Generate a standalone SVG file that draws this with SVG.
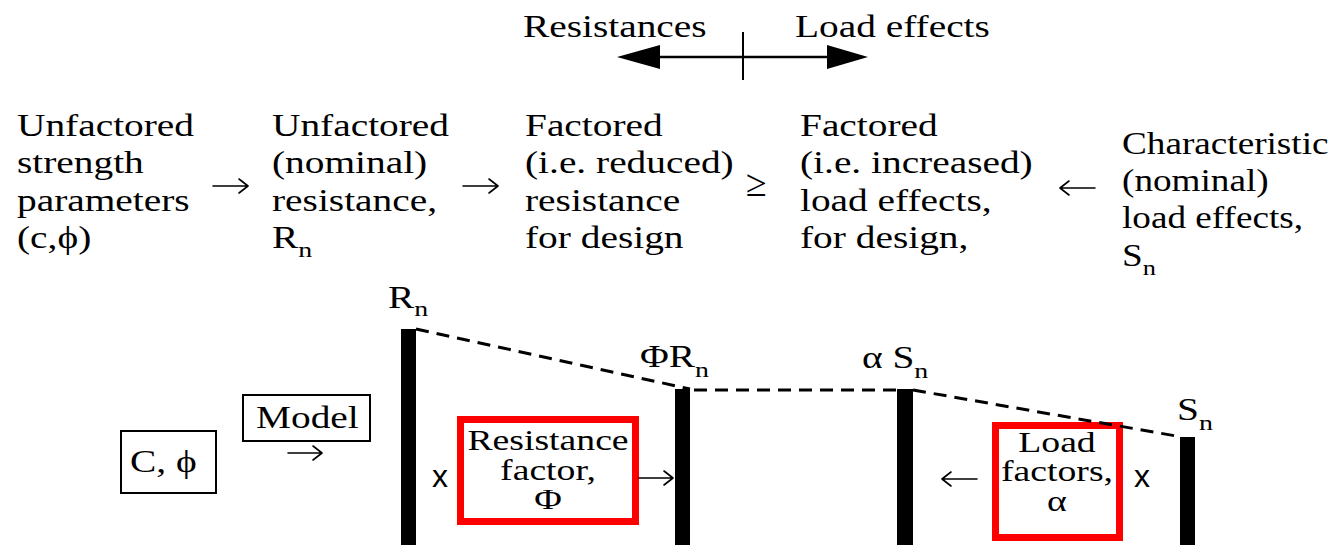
<svg xmlns="http://www.w3.org/2000/svg" width="1341" height="545" viewBox="0 0 1341 545">
<style>
text{font-family:"Liberation Serif","Times New Roman",serif;font-size:31px;fill:#000}
.sans{font-family:"Liberation Sans",Arial,sans-serif;font-size:32px}
.sub{font-size:22px}
.dash{fill:none;stroke:#000;stroke-width:3;stroke-dasharray:13 8}
.box{fill:#fff;stroke:#000;stroke-width:2}
.red{fill:none;stroke:#f00;stroke-width:7}
.bar{fill:#000}
.mid{text-anchor:middle}
.arr{fill:none;stroke:#000;stroke-width:1.6;stroke-linecap:round;stroke-linejoin:round}
</style>
<rect width="1341" height="545" fill="#fff"/>
<g id="header">
  <text transform="translate(523 0) scale(1.27 1)" y="37">Resistances</text>
  <text transform="translate(795 0) scale(1.27 1)" y="37">Load effects</text>
</g>
<g id="col1" transform="translate(17 0) scale(1.27 1)">
  <text y="136">Unfactored</text>
  <text y="173">strength</text>
  <text y="211">parameters</text>
  <text y="248">(c,ϕ)</text>
</g>
<g id="col2" transform="translate(272 0) scale(1.27 1)">
  <text y="136">Unfactored</text>
  <text y="173">(nominal)</text>
  <text y="211">resistance,</text>
  <text y="248">R<tspan class="sub" dy="9">n</tspan></text>
</g>
<g id="col3" transform="translate(525 0) scale(1.27 1)">
  <text y="136">Factored</text>
  <text y="173">(i.e. reduced)</text>
  <text y="211">resistance</text>
  <text y="248">for design</text>
</g>
<g id="col4" transform="translate(800 0) scale(1.27 1)">
  <text y="136">Factored</text>
  <text y="173">(i.e. increased)</text>
  <text y="211">load effects,</text>
  <text y="248">for design,</text>
</g>
<g id="col5" transform="translate(1122 0) scale(1.2 1)">
  <text y="154">Characteristic</text>
  <text y="191">(nominal)</text>
  <text y="228">load effects,</text>
  <text y="266">S<tspan class="sub" dy="9">n</tspan></text>
</g>
<g id="ops">
  <text x="746" y="196" style="font-size:38px">≥</text>
</g>
<g id="cphi">
  <rect class="box" x="121" y="431" width="95" height="62"/>
  <text transform="translate(130 0) scale(1.27 1)" y="472">C, ϕ</text>
</g>
<g id="model">
  <rect class="box" x="243" y="395" width="127" height="46"/>
  <text transform="translate(256 0) scale(1.27 1)" y="428">Model</text>
</g>
<g id="bar-rn">
  <rect class="bar" x="401" y="329" width="15" height="216"/>
  <text transform="translate(388 0) scale(1.27 1)" y="308">R<tspan class="sub" dy="8">n</tspan></text>
</g>
<g id="bar-phirn">
  <rect class="bar" x="675" y="389" width="15" height="156"/>
  <text transform="translate(640 0) scale(1.27 1)" y="367">ΦR<tspan class="sub" dy="10">n</tspan></text>
</g>
<g id="bar-asn">
  <rect class="bar" x="897" y="389" width="16" height="156"/>
  <text transform="translate(862 0) scale(1.27 1)" y="368">α S<tspan class="sub" dy="10">n</tspan></text>
</g>
<g id="bar-sn">
  <rect class="bar" x="1180" y="437" width="15" height="108"/>
  <text transform="translate(1177 0) scale(1.27 1)" y="420">S<tspan class="sub" dy="10">n</tspan></text>
</g>
<g id="resfactor">
  <rect class="red" x="460.5" y="419.5" width="175" height="102"/>
  <g transform="translate(548 0) scale(1.3 1)">
    <text class="mid" y="450" style="font-size:29px">Resistance</text>
    <text class="mid" y="480" style="font-size:29px">factor,</text>
    <text class="mid" y="509" style="font-size:29px">Φ</text>
  </g>
  <text class="sans" x="432" y="487">x</text>
</g>
<g id="loadfactor">
  <rect class="red" x="995.5" y="425.5" width="124" height="112"/>
  <g transform="translate(1057 0) scale(1.3 1)">
    <text class="mid" y="452" style="font-size:29px">Load</text>
    <text class="mid" y="481" style="font-size:29px">factors,</text>
    <text class="mid" y="511" style="font-size:29px">α</text>
  </g>
  <text class="sans" x="1134" y="487">x</text>
</g>
<g id="connectors">
  <line x1="650" y1="57" x2="835" y2="57" stroke="#000" stroke-width="2.5"/>
  <polygon points="617,57 660,45 660,69" fill="#000"/>
  <polygon points="868,57 827,45 827,69" fill="#000"/>
  <line x1="743" y1="32" x2="743" y2="80" stroke="#000" stroke-width="2"/>
  <path class="dash" d="M416 329 L690 389"/>
  <path class="dash" d="M694 390 H897"/>
  <path class="dash" d="M913 390 L1182 437"/>
  <path class="arr" d="M639 478 H673 M664 471 L673 478 L664 485"/>
  <path class="arr" d="M213 186 H248 M239 179 L248 186 L239 193"/>
  <path class="arr" d="M463 186 H498 M489 179 L498 186 L489 193"/>
  <path class="arr" d="M1095 188 H1060 M1069 181 L1060 188 L1069 195"/>
  <path class="arr" d="M288 453 H322 M313 446 L322 453 L313 460"/>
  <path class="arr" d="M977 479 H942 M951 472 L942 479 L951 486"/>
</g>
</svg>
